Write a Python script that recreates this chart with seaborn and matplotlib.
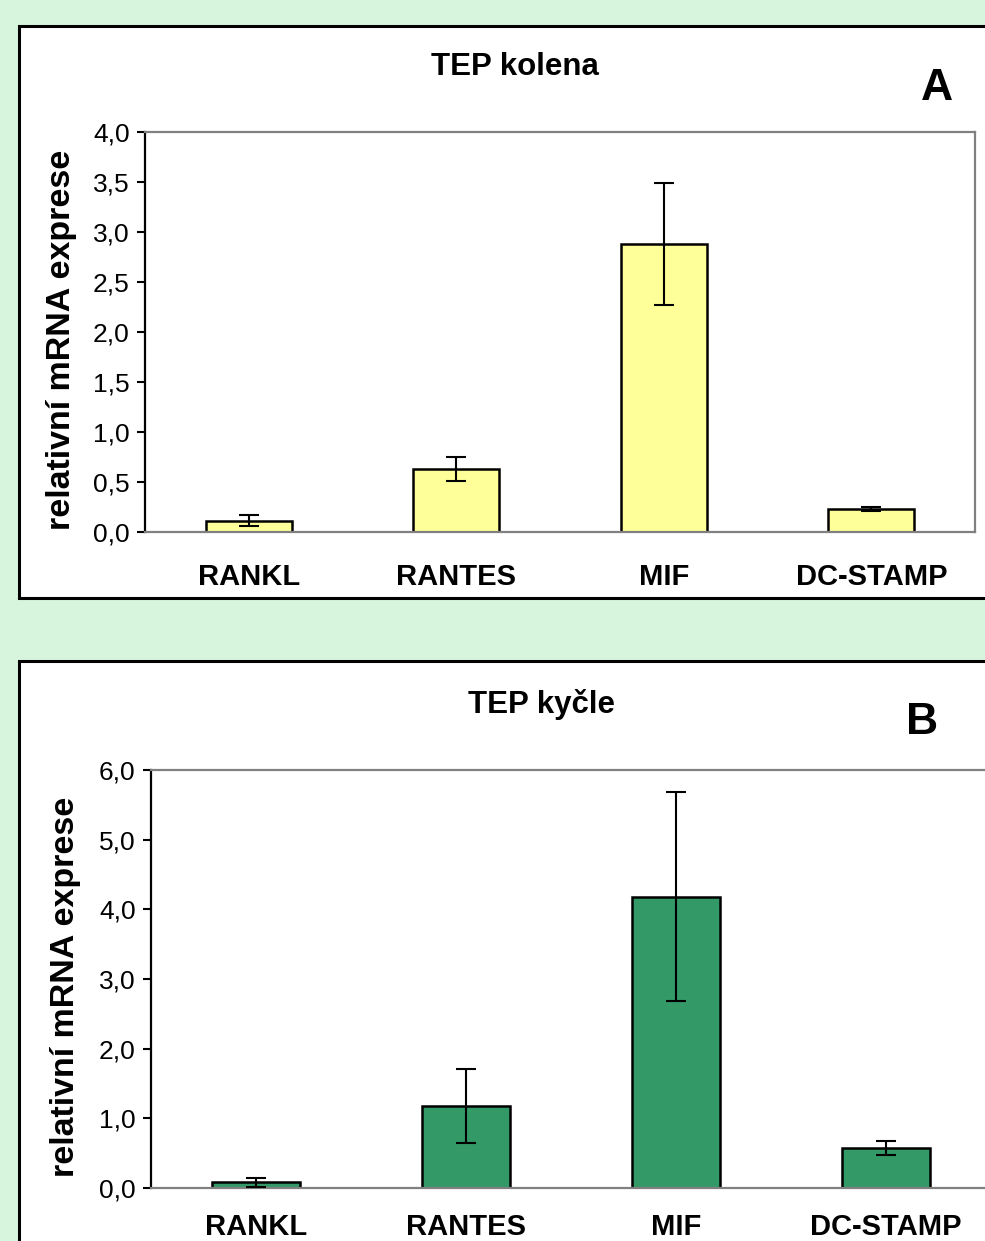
import matplotlib
matplotlib.use("Agg")
import matplotlib.pyplot as plt
import seaborn as sns
import numpy as np
import pandas as pd
from matplotlib.patches import Rectangle

# ---- data ----
categories = ["RANKL", "RANTES", "MIF", "DC-STAMP"]
knee_means = [0.11, 0.63, 2.88, 0.23]
knee_err = [0.055, 0.12, 0.61, 0.02]
hip_means = [0.08, 1.18, 4.18, 0.57]
hip_err = [0.06, 0.53, 1.50, 0.10]
knee_ticks = [0.0, 0.5, 1.0, 1.5, 2.0, 2.5, 3.0, 3.5, 4.0]
knee_ticklabels = ["0,0", "0,5", "1,0", "1,5", "2,0", "2,5", "3,0", "3,5", "4,0"]
hip_ticks = [0, 1, 2, 3, 4, 5, 6]
hip_ticklabels = ["0,0", "1,0", "2,0", "3,0", "4,0", "5,0", "6,0"]
title_a = "TEP kolena"
title_b = "TEP kyčle"
ylabel = "relativní mRNA exprese"

sns.set_style("white")
plt.rcParams['font.family'] = ['Liberation Sans', 'DejaVu Sans']
plt.rcParams['text.color'] = 'black'
plt.rcParams['axes.labelcolor'] = 'black'
plt.rcParams['xtick.color'] = 'black'
plt.rcParams['ytick.color'] = 'black'

W, H = 985, 1241
fig = plt.figure(figsize=(W / 100, H / 100), dpi=100)
fig.patch.set_facecolor("#d6f5dc")

def px_rect(x0, y0, x1, y1):
    return [x0 / W, 1 - y1 / H, (x1 - x0) / W, (y1 - y0) / H]

# panel frames
for (x0, y0, x1, y1) in [(19, 26, 1010, 598), (19, 661, 1010, 1260)]:
    fig.patches.append(Rectangle((x0 / W, 1 - y1 / H), (x1 - x0) / W, (y1 - y0) / H,
                                 transform=fig.transFigure, facecolor="white",
                                 edgecolor="black", linewidth=2.2, zorder=-5))

def draw(ax, means, errs, color, ticks, ticklabels, ylim, xpad, labx):
    df = pd.DataFrame({"gen": categories, "val": means})
    sns.barplot(data=df, x="gen", y="val", color=color, edgecolor="black",
                linewidth=1.8, width=0.415, errorbar=None, ax=ax, saturation=1)
    ax.errorbar(np.arange(len(categories)), means, yerr=errs, fmt="none",
                ecolor="black", elinewidth=1.5, capsize=7, capthick=1.5, zorder=5)
    ax.set_ylim(*ylim)
    ax.set_xlim(-0.5, len(categories) - 0.5)
    ax.set_yticks(ticks)
    ax.set_yticklabels(ticklabels, fontsize=19)
    ax.set_xticks(range(len(categories)))
    ax.set_xticklabels(categories, fontsize=21, fontweight="bold")
    ax.tick_params(axis="y", direction="out", length=6, width=1.5, color="black",
                   pad=5, left=True)
    ax.tick_params(axis="x", length=0, pad=xpad)
    ax.set_xlabel("")
    ax.set_ylabel(ylabel, fontsize=24.5, fontweight="bold")
    ax.yaxis.set_label_coords(labx, 0.48)
    ax.spines["left"].set_color("black")
    ax.spines["left"].set_linewidth(1.6)
    for s in ["bottom", "top", "right"]:
        ax.spines[s].set_color("#808080")
        ax.spines[s].set_linewidth(1.6)
    ax.patch.set_alpha(0)

axA = fig.add_axes(px_rect(145, 132, 975, 532))
draw(axA, knee_means, knee_err, "#ffff99", knee_ticks, knee_ticklabels, (0, 4), 22, -0.082)

axB = fig.add_axes(px_rect(151, 770, 991, 1188))
draw(axB, hip_means, hip_err, "#339966", hip_ticks, hip_ticklabels, (0, 6), 18, -0.083)

fig.text(515 / W, 1 - 67 / H, title_a, ha="center", va="center", fontsize=22.5, fontweight="bold")
fig.text(542 / W, 1 - 704 / H, title_b, ha="center", va="center", fontsize=22.5, fontweight="bold")
fig.text(937 / W, 1 - 88 / H, "A", ha="center", va="center", fontsize=32, fontweight="bold")
fig.text(922 / W, 1 - 722 / H, "B", ha="center", va="center", fontsize=32, fontweight="bold")

fig.savefig("out.png", dpi=100, facecolor=fig.get_facecolor())
